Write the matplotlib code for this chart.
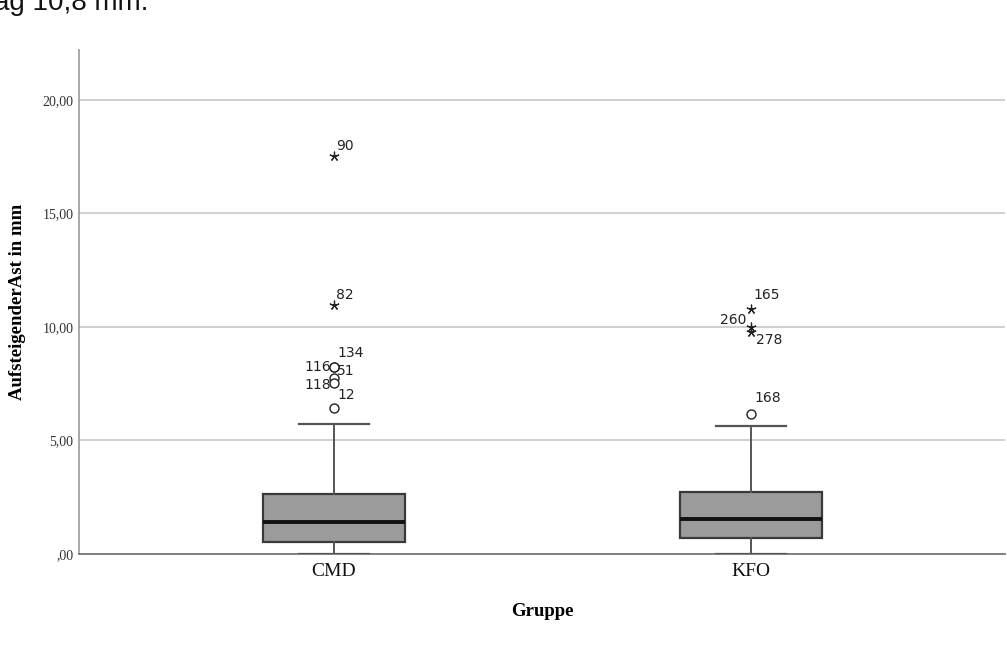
"""
Boxplot AufsteigenderAst in mm nach Gruppe (SPSS-Stil)
"""

import matplotlib
matplotlib.use('Agg')
import matplotlib.pyplot as plt

# Daten
groups = ['CMD', 'KFO']
q1 = [0.53, 0.70]
median = [1.41, 1.52]
q3 = [2.64, 2.73]
whisker_low = [0.0, 0.0]
whisker_high = [5.73, 5.64]

# Ausreisser (Kreis) und Extremwerte (Stern)
out_group = [0, 0, 0, 0, 0, 1]
out_values = [8.24, 8.24, 7.75, 7.53, 6.43, 6.17]
out_ids = ['134', '116', '51', '118', '12', '168']

ext_group = [0, 0, 1, 1, 1]
ext_values = [17.53, 10.97, 10.79, 10.00, 9.78]
ext_ids = ['90', '82', '165', '260', '278']

# Label-Position relativ zum Punkt (dx in Gruppen-Einheiten, dy in mm, ha)
out_label_pos = [(0.008, 0.62, 'left'), (-0.006, 0.0, 'right'), (0.008, 0.3, 'left'),
                 (-0.006, -0.1, 'right'), (0.008, 0.55, 'left'), (0.008, 0.68, 'left')]
ext_label_pos = [(0.005, 0.45, 'left'), (0.005, 0.45, 'left'), (0.005, 0.6, 'left'),
                 (-0.01, 0.3, 'right'), (0.012, -0.38, 'left')]

fig = plt.figure(figsize=(10.07, 6.64), dpi=100)
ax = fig.add_axes([0.0785, 0.166, 0.92, 0.759])

stats = []
for i, g in enumerate(groups):
    stats.append(dict(label=g, q1=q1[i], med=median[i], q3=q3[i],
                      whislo=whisker_low[i], whishi=whisker_high[i], fliers=[]))

positions = [0, 1]
ax.bxp(stats, positions=positions, widths=0.34, patch_artist=True,
       showfliers=False,
       boxprops=dict(facecolor='#9b9b9b', edgecolor='#3a3a3a', linewidth=1.6),
       medianprops=dict(color='#111111', linewidth=2.8),
       whiskerprops=dict(color='#555555', linewidth=1.4),
       capprops=dict(color='#555555', linewidth=1.6),
       capwidths=0.168, zorder=3)

# Ausreisser
ox = [positions[g] for g in out_group]
ax.scatter(ox, out_values, s=42, marker='o', facecolors='white',
           edgecolors='#222222', linewidths=1.0, zorder=4)
ex = [positions[g] for g in ext_group]
ax.scatter(ex, ext_values, s=40, marker=(5, 2, 0), color='#222222',
           linewidths=0.9, zorder=4)

for x, y, lab, (dx, dy, ha) in zip(ox, out_values, out_ids, out_label_pos):
    ax.text(x + dx, y + dy, lab, ha=ha, va='center', fontsize=10,
            family='DejaVu Sans', color='#222222')
for x, y, lab, (dx, dy, ha) in zip(ex, ext_values, ext_ids, ext_label_pos):
    ax.text(x + dx, y + dy, lab, ha=ha, va='center', fontsize=10,
            family='DejaVu Sans', color='#222222')

ax.set_xlim(-0.611, 1.61)
ax.set_ylim(0, 22.2)
ax.set_yticks([0, 5, 10, 15, 20])
ax.set_yticklabels([',00', '5,00', '10,00', '15,00', '20,00'],
                   family='Liberation Serif', fontsize=10, color='#333333')
ax.set_xticks(positions)
ax.set_xticklabels(groups, family='Liberation Serif', fontsize=14, color='#111111')
ax.tick_params(axis='y', length=0, pad=4)
ax.tick_params(axis='x', length=0, pad=7)

ax.yaxis.grid(True, color='#c4c4c4', linewidth=1.1)
ax.set_axisbelow(True)
for s in ['top', 'right']:
    ax.spines[s].set_visible(False)
ax.spines['left'].set_color('#999999')
ax.spines['left'].set_linewidth(1.2)
ax.spines['bottom'].set_color('#777777')
ax.spines['bottom'].set_linewidth(1.3)

ax.set_ylabel('AufsteigenderAst in mm', family='Liberation Serif',
              fontsize=13.5, fontweight='bold', labelpad=12)
ax.set_xlabel('Gruppe', family='Liberation Serif', fontsize=13.5,
              fontweight='bold', labelpad=16)

# abgeschnittener Fliesstext oben
fig.text(-0.006, 1 - 10 / 664, 'ag 10,8 mm.', ha='left', va='baseline',
         family='Liberation Sans', fontsize=20, color='#111111')

fig.savefig('out.png', dpi=100, facecolor='white')
